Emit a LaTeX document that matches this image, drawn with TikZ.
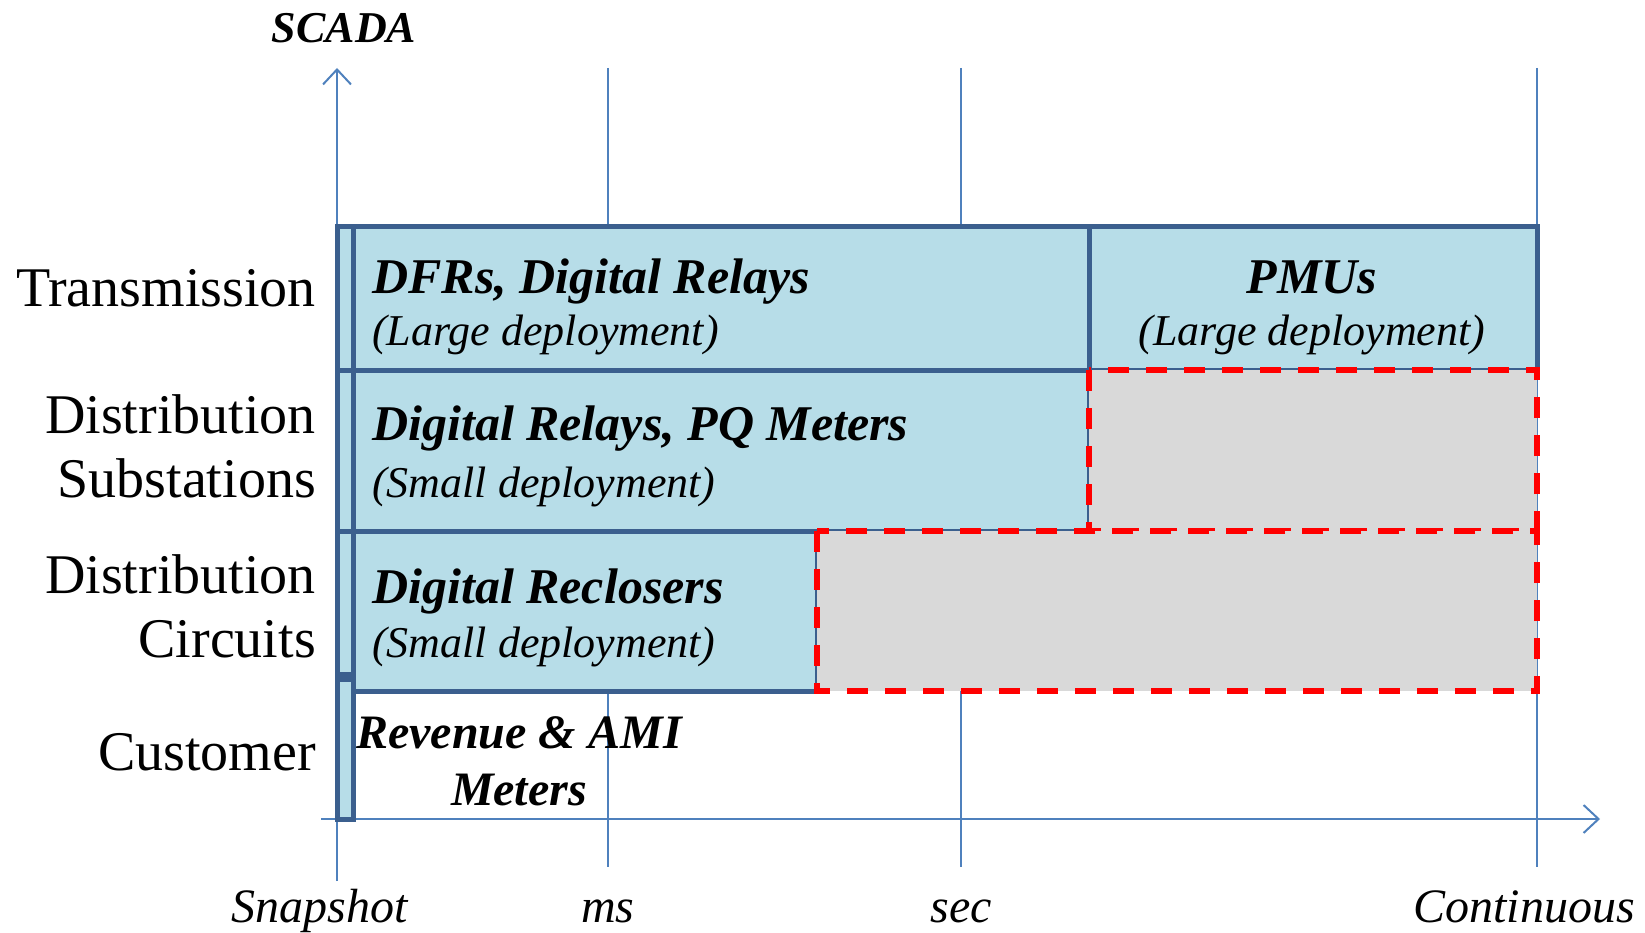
\documentclass[tikz,border=0pt]{standalone}
\usepackage{fontspec}
\setmainfont{Liberation Serif}
\usetikzlibrary{arrows.meta}
\definecolor{boxfill}{HTML}{B7DDE8}
\definecolor{boxline}{HTML}{3B5F8E}
\definecolor{gridc}{HTML}{4F81BD}
\definecolor{grayfill}{HTML}{D9D9D9}
\tikzset{
  gridline/.style={draw=gridc, line width=2pt},
  axisline/.style={draw=gridc, line width=2pt, -{Straight Barb[length=15pt,width=28pt]}},
  cell/.style={fill=boxfill, draw=boxline, line width=5pt},
  gapcell/.style={fill=grayfill, draw=red, line width=6pt, dash pattern=on 21pt off 17pt},
  rowlab/.style={font=\fontsize{56}{64}\selectfont, align=right, anchor=base east, inner sep=0pt},
  titletxt/.style={font=\fontsize{50}{60}\selectfont\bfseries\itshape, anchor=base west, inner sep=0pt},
  subtxt/.style={font=\fontsize{44}{52}\selectfont\itshape, anchor=base west, inner sep=0pt},
  ticklab/.style={font=\fontsize{48}{56}\selectfont\itshape, anchor=base, inner sep=0pt}
}
\begin{document}
\begin{tikzpicture}[x=1pt,y=-1pt]
\useasboundingbox (0,0) rectangle (1645,933);
% coordinates
\coordinate (ytop) at (337,68);
\coordinate (ybot) at (337,881);
\coordinate (xleft) at (321,819);
\coordinate (xright) at (1600,819);
\coordinate (ms1) at (608,68);
\coordinate (ms2) at (608,867);
\coordinate (sec1) at (961,68);
\coordinate (sec2) at (961,867);
\coordinate (co1) at (1537,68);
\coordinate (co2) at (1537,867);
% grid lines
\draw[gridline] (ms1) -- (ms2);
\draw[gridline] (sec1) -- (sec2);
\draw[gridline] (co1) -- (co2);
% axes
\draw[axisline] (ybot) -- (ytop);
\draw[axisline] (xleft) -- (xright);
% thin SCADA column
\draw[cell] (337,227) rectangle (353,370);
\draw[cell] (337,370) rectangle (353,531);
\draw[cell] (337,531) rectangle (353,674);
\draw[cell] (337,679) rectangle (353,819);
% main cells
\draw[cell] (353,227) rectangle (1089,370);
\draw[cell] (1089,227) rectangle (1537,370);
\draw[cell] (353,370) rectangle (1089,531);
\draw[cell] (353,531) rectangle (817,691);
% gaps
\draw[gapcell] (1089,370) rectangle (1537,531);
\draw[gapcell] (817,531) rectangle (1537,691);
% title
\node[font=\fontsize{44}{52}\selectfont\bfseries\itshape, anchor=base, inner sep=0pt] (scada) at (344,43) {SCADA};
% row labels (base anchor = last line)
\node[rowlab] (trans) at (316,306) {Transmission};
\node[rowlab] (dsub) at (316,497) {Distribution\\Substations};
\node[rowlab] (dcir) at (316,657) {Distribution\\Circuits};
\node[rowlab] (cust) at (316,770) {Customer};
% cell texts
\node[titletxt] (dfr) at (372,293) {DFRs, Digital Relays};
\node[subtxt] (dfrs) at (372,345) {(Large deployment)};
\node[titletxt, anchor=base] (pmu) at (1312,293) {PMUs};
\node[subtxt, anchor=base] (pmus) at (1312,345) {(Large deployment)};
\node[titletxt] (drpq) at (372,440) {Digital Relays, PQ Meters};
\node[subtxt] (drpqs) at (372,497) {(Small deployment)};
\node[titletxt] (drec) at (372,603) {Digital Reclosers};
\node[subtxt] (drecs) at (372,657) {(Small deployment)};
\node[font=\fontsize{48}{57}\selectfont\bfseries\itshape, align=center, anchor=base, inner sep=0pt] (rev) at (519,805) {Revenue \& AMI\\Meters};
% tick labels
\node[ticklab] (snap) at (320,922) {Snapshot};
\node[ticklab] (ms) at (608,922) {ms};
\node[ticklab] (sec) at (961,922) {sec};
\node[ticklab] (cont) at (1524,922) {Continuous};
\end{tikzpicture}
\end{document}
